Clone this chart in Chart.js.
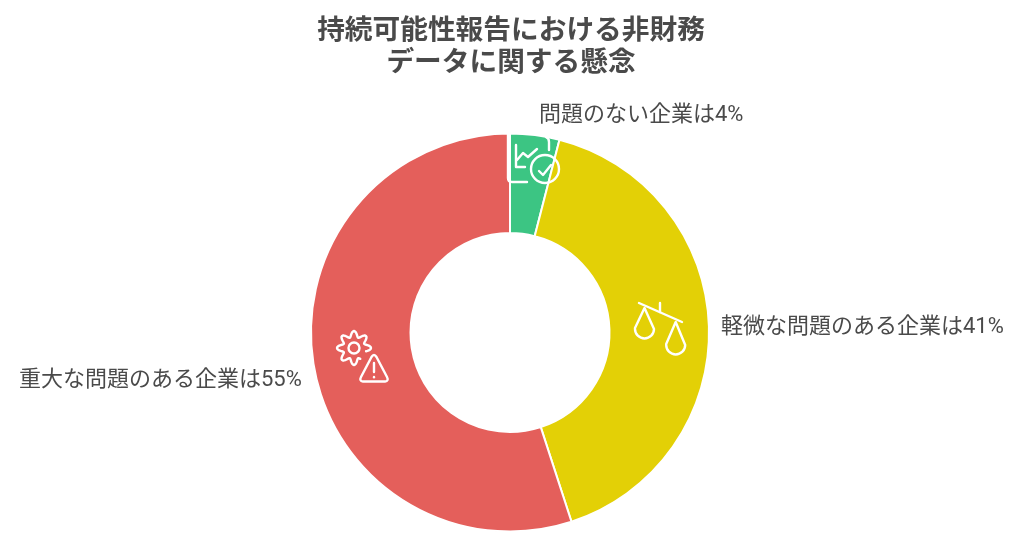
<!DOCTYPE html>
<html lang="ja">
<head>
<meta charset="utf-8">
<title>持続可能性報告における非財務データに関する懸念</title>
<script src="https://cdn.jsdelivr.net/npm/chart.js@4/dist/chart.umd.min.js"></script>
<style>
html, body { margin: 0; padding: 0; background: #fff; }
#wrap { position: relative; width: 1024px; height: 548px; overflow: hidden; }
</style>
</head>
<body>
<div id="wrap"><canvas id="chart"></canvas></div>
<script>
const FONT = 'Roboto, "Noto Sans CJK JP", sans-serif';
const TEXT_COLOR = '#4a4a4a';

const titleLines = ['持続可能性報告における非財務', 'データに関する懸念'];
const categories = ['問題のない企業は4%', '軽微な問題のある企業は41%', '重大な問題のある企業は55%'];
const shares = [4, 41, 55];
const sliceColors = ['#3cc583', '#e3d006', '#e45f5b'];
const labelAnchors = [[539, 115], [721, 327], [19, 380]];

function line(ctx, pts) {
    ctx.beginPath();
    pts.forEach((p, i) => i ? ctx.lineTo(p[0], p[1]) : ctx.moveTo(p[0], p[1]));
    ctx.stroke();
}

// white outline icons sitting on the slices
function drawChecklistIcon(ctx) {
    ctx.beginPath();
    ctx.moveTo(508, 134);
    ctx.lineTo(508, 178);
    ctx.quadraticCurveTo(508, 182, 512, 182);
    ctx.lineTo(527, 182);
    ctx.stroke();
    ctx.beginPath();
    ctx.moveTo(546, 137);
    ctx.quadraticCurveTo(549, 138, 549, 142);
    ctx.lineTo(549, 150);
    ctx.stroke();
    line(ctx, [[516, 145], [516, 167], [525, 167]]);
    line(ctx, [[517, 160], [523, 153], [528, 157], [537, 149]]);
    ctx.beginPath();
    ctx.arc(545, 169, 14, 0, Math.PI * 2);
    ctx.stroke();
    line(ctx, [[539, 171], [543, 175], [551, 165]]);
}

function drawScalesIcon(ctx) {
    line(ctx, [[639, 303], [682, 322]]);
    line(ctx, [[660, 303], [660, 312]]);
    [[644.5, 308, 329], [675.7, 322, 345]].forEach(([x, top, cy]) => {
        const r = 9.5;
        ctx.beginPath();
        ctx.moveTo(x, top);
        ctx.lineTo(x - r, cy - 1);
        ctx.arc(x, cy, r, Math.PI, 0, true);
        ctx.closePath();
        ctx.stroke();
    });
}

function drawGearWarningIcon(ctx) {
    const cx = 354, cy = 348;
    ctx.beginPath();
    ctx.arc(cx, cy, 5.5, 0, Math.PI * 2);
    ctx.stroke();
    // gear outline, open towards the triangle
    ctx.beginPath();
    for (let deg = 60; deg <= 375; deg += 3) {
        const a = deg * Math.PI / 180;
        const r = 14 + 3 * Math.cos(8 * a);
        const x = cx + r * Math.cos(a), y = cy + r * Math.sin(a);
        if (deg === 60) ctx.moveTo(x, y); else ctx.lineTo(x, y);
    }
    ctx.stroke();
    ctx.beginPath();
    ctx.moveTo(371.5, 357);
    ctx.quadraticCurveTo(374, 353, 376.5, 357);
    ctx.lineTo(387, 377);
    ctx.quadraticCurveTo(389, 381, 385, 381.5);
    ctx.lineTo(363, 381.5);
    ctx.quadraticCurveTo(359, 381, 361, 377);
    ctx.closePath();
    ctx.stroke();
    line(ctx, [[374, 363], [374, 372]]);
    line(ctx, [[374, 377], [374, 377.2]]);
}

const annotations = {
    id: 'annotations',
    afterLayout(chart) {
        // the right padding moves the ring; keep the title where it belongs
        chart.titleBlock.left += 1;
        chart.titleBlock.right += 1;
    },
    afterDatasetsDraw(chart) {
        const ctx = chart.ctx;
        ctx.save();
        ctx.strokeStyle = '#fff';
        ctx.lineWidth = 2.4;
        ctx.lineCap = 'round';
        ctx.lineJoin = 'round';
        drawChecklistIcon(ctx);
        drawScalesIcon(ctx);
        drawGearWarningIcon(ctx);
        ctx.fillStyle = TEXT_COLOR;
        ctx.font = '400 22px ' + FONT;
        ctx.textAlign = 'left';
        ctx.textBaseline = 'middle';
        categories.forEach((c, i) => ctx.fillText(c, labelAnchors[i][0], labelAnchors[i][1]));
        ctx.restore();
    }
};

new Chart(document.getElementById('chart').getContext('2d'), {
    type: 'doughnut',
    data: {
        labels: categories,
        datasets: [{
            data: shares,
            backgroundColor: sliceColors,
            borderColor: '#fff',
            borderWidth: 2,
            borderAlign: 'center'
        }]
    },
    options: {
        responsive: true,
        maintainAspectRatio: false,
        animation: false,
        cutout: '50%',
        layout: { padding: { right: 4, bottom: 15.5 } },
        plugins: {
            legend: { display: false },
            tooltip: { enabled: false },
            title: {
                display: true,
                text: titleLines,
                color: TEXT_COLOR,
                font: { family: FONT, size: 27.7, weight: '700', lineHeight: 1.155 },
                padding: { top: 16, bottom: 52.5 }
            }
        }
    },
    plugins: [annotations]
});
</script>
</body>
</html>
